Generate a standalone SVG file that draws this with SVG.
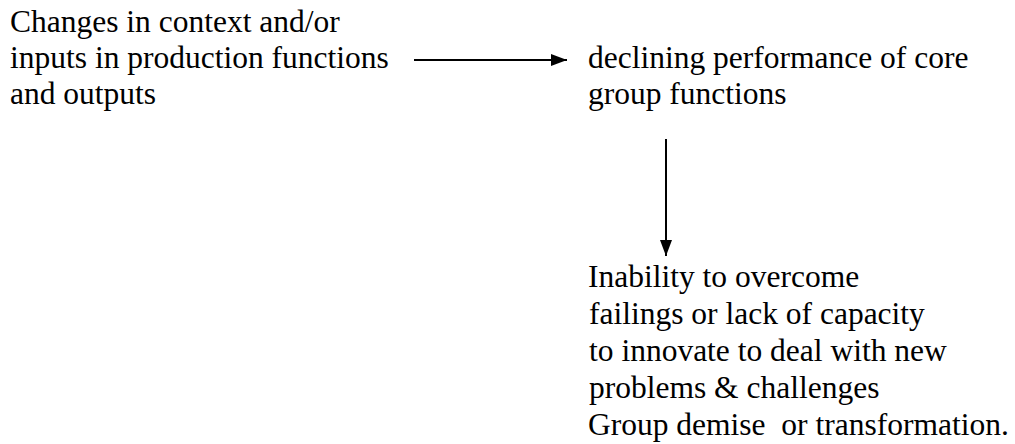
<svg xmlns="http://www.w3.org/2000/svg" width="1015" height="444" viewBox="0 0 1015 444">
  <style>
    text { font-family: "Liberation Serif", "Times New Roman", serif; font-size: 31.5px; fill: #000; white-space: pre; }
    .conn { stroke: #000; stroke-width: 2; fill: none; }
  </style>
  <defs>
    <marker id="arrow" viewBox="0 0 16 12" refX="16" refY="6" markerWidth="16" markerHeight="12" markerUnits="userSpaceOnUse" orient="auto">
      <path d="M0,0 L16,6 L0,12 Z" fill="#000"/>
    </marker>
  </defs>
  <rect width="1015" height="444" fill="#fff"/>
  <g id="node-changes">
    <text x="10" y="32">Changes in context and/or</text>
    <text x="10" y="68">inputs in production functions</text>
    <text x="10" y="104">and outputs</text>
  </g>
  <g id="node-declining">
    <text x="588" y="68">declining performance of core</text>
    <text x="588" y="104">group functions</text>
  </g>
  <g id="node-inability">
    <text x="588" y="287">Inability to overcome</text>
    <text x="589" y="324">failings or lack of capacity</text>
    <text x="589" y="361">to innovate to deal with new</text>
    <text x="589" y="398">problems &amp; challenges</text>
    <text x="588" y="435">Group demise  or transformation.</text>
  </g>
  <g id="connectors">
    <line class="conn" x1="414" y1="60" x2="567" y2="60" marker-end="url(#arrow)"/>
    <line class="conn" x1="666" y1="139" x2="666" y2="256" marker-end="url(#arrow)"/>
  </g>
</svg>
